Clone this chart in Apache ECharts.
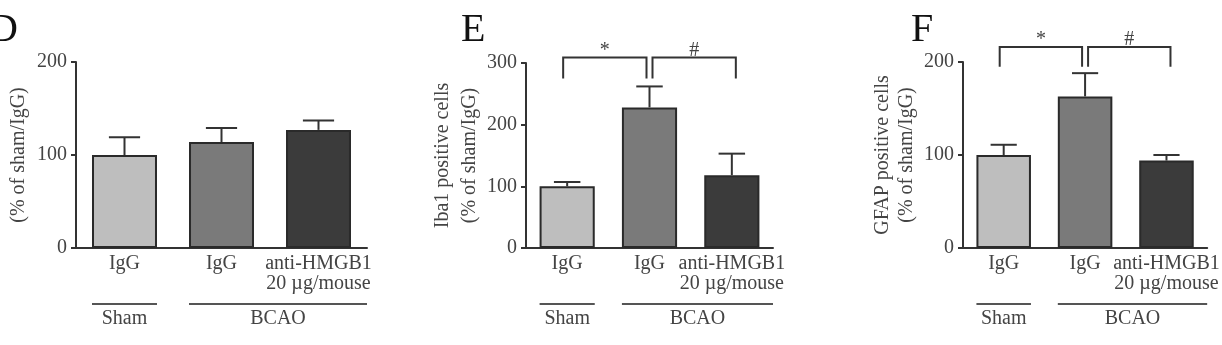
<!DOCTYPE html>
<html>
<head>
<meta charset="utf-8">
<script src="https://cdn.jsdelivr.net/npm/echarts@6/dist/echarts.min.js"></script>
<style>
html,body{margin:0;padding:0;background:#fff;}
#chart{width:1222px;height:345px;}
</style>
</head>
<body>
<div id="chart"></div>
<script>
// ---- data ----
const categories = ['IgG', 'IgG', 'anti-HMGB1\n20 µg/mouse'];
const panelLetters = ['D', 'E', 'F'];
const yAxisNames = ['(% of sham/IgG)', 'Iba1 positive cells\n(% of sham/IgG)', 'GFAP positive cells\n(% of sham/IgG)'];
const yMaxes = [200, 300, 200];
const yInterval = 100;
const meanD = [100, 114, 127];
const semD = [19, 15, 10];
const meanE = [100, 228, 118];
const semE = [7, 34, 35];
const meanF = [100, 163, 94];
const semF = [11, 25, 6];
const groupNames = ['Sham', 'BCAO'];
const groupSpans = [[0, 0], [1, 2]];
const sigMarks = ['*', '#'];
const sigSpans = [[0, 1], [1, 2]];
const bracketE = [309, 275];   // top, bottom (axis units)
const bracketF = [216, 195];

// ---- styles / layout ----
const FONT = 'Liberation Serif';
const TXT = '#444';
const LINE = '#333';
const barColors = ['#bebebe', '#7a7a7a', '#3b3b3b'];
const grids = [
  {left: 76, top: 62, width: 291, height: 186},
  {left: 526, top: 63, width: 247, height: 185},
  {left: 963, top: 62, width: 249, height: 186}
];
const nameGaps = [45, 41, 44];
const nameLineHeights = [25, 27, 24];
const means = [meanD, meanE, meanF];
const sems = [semD, semE, semF];
const brackets = [null, bracketE, bracketF];

const chart = echarts.init(document.getElementById('chart'));

const option = {
  animation: false,
  backgroundColor: '#fff',
  grid: grids.map(g => Object.assign({containLabel: false}, g)),
  xAxis: grids.map((g, i) => ({
    type: 'category', gridIndex: i, data: categories,
    axisLine: {show: true, lineStyle: {color: LINE, width: 2}},
    axisTick: {show: false},
    axisLabel: {interval: 0, fontFamily: FONT, fontSize: 20, lineHeight: 20, color: TXT, margin: 6}
  })),
  yAxis: grids.map((g, i) => ({
    type: 'value', gridIndex: i, min: 0, max: yMaxes[i], interval: yInterval,
    name: yAxisNames[i], nameLocation: 'middle', nameRotate: 90, nameGap: nameGaps[i],
    nameTextStyle: {fontFamily: FONT, fontSize: 20, lineHeight: nameLineHeights[i], color: TXT},
    axisLine: {show: true, lineStyle: {color: LINE, width: 2}},
    axisTick: {show: true, length: 5, lineStyle: {color: LINE, width: 2}},
    axisLabel: {fontFamily: FONT, fontSize: 20, color: TXT, margin: 9},
    splitLine: {show: false}
  })),
  graphic: panelLetters.map((L, i) => ({
    type: 'text',
    left: [-11, 461, 911][i], top: 10,
    style: {text: L, fontFamily: FONT, fontSize: 40, fill: '#111'}
  })),
  series: []
};

means.forEach((m, i) => {
  option.series.push({
    type: 'bar', xAxisIndex: i, yAxisIndex: i, barWidth: '67%',
    data: m.map((v, k) => ({value: v, itemStyle: {color: barColors[k]}})),
    itemStyle: {borderColor: '#2a2a2a', borderWidth: 2},
    z: 2
  });
  // error bars (upper only)
  option.series.push({
    type: 'custom', xAxisIndex: i, yAxisIndex: i, z: 3, clip: false,
    data: m.map((v, k) => [k, v, sems[i][k]]),
    encode: {x: 0, y: 1},
    renderItem: function (params, api) {
      const k = api.value(0), v = api.value(1), e = api.value(2);
      const p0 = api.coord([k, v]);
      const p1 = api.coord([k, v + e]);
      const half = api.size([1, 0])[0] * 0.67 * 0.24;
      return {type: 'group', children: [
        {type: 'line', shape: {x1: p0[0], y1: p0[1], x2: p1[0], y2: p1[1]}, style: {stroke: LINE, lineWidth: 2}},
        {type: 'line', shape: {x1: p1[0] - half, y1: p1[1], x2: p1[0] + half, y2: p1[1]}, style: {stroke: LINE, lineWidth: 2}}
      ]};
    }
  });
  // group labels under axis
  option.series.push({
    type: 'custom', xAxisIndex: i, yAxisIndex: i, z: 3, clip: false, silent: true,
    data: groupSpans.map(s => [s[0], s[1], 0]),
    encode: {x: [0, 1], y: 2},
    renderItem: function (params, api) {
      const a = api.coord([api.value(0), 0]);
      const b = api.coord([api.value(1), 0]);
      const band = api.size([1, 0])[0];
      const bw = band * 0.67;
      const x1 = a[0] - bw / 2;
      const x2 = api.value(1) === categories.length - 1 ? b[0] + band / 2 : b[0] + bw / 2;
      const yl = a[1] + 56;
      return {type: 'group', children: [
        {type: 'line', shape: {x1: x1, y1: yl, x2: x2, y2: yl}, style: {stroke: '#555', lineWidth: 2}},
        {type: 'text', style: {text: groupNames[params.dataIndex], x: (x1 + x2) / 2, y: yl + 15,
          align: 'center', verticalAlign: 'middle', fontFamily: FONT, fontSize: 20, fill: TXT}}
      ]};
    }
  });
  // significance brackets
  if (brackets[i]) {
    const br = brackets[i];
    option.series.push({
      type: 'custom', xAxisIndex: i, yAxisIndex: i, z: 3, clip: false, silent: true,
      data: sigSpans.map(s => [s[0], s[1], br[0], br[1]]),
      encode: {x: [0, 1], y: [2, 3]},
      renderItem: function (params, api) {
        const a = api.coord([api.value(0), api.value(2)]);
        const b = api.coord([api.value(1), api.value(2)]);
        const yb = api.coord([api.value(0), api.value(3)])[1];
        const left = params.dataIndex === 0;
        const x1 = a[0] + (left ? -4 : 3);
        const x2 = b[0] + (left ? -3 : 4);
        return {type: 'group', children: [
          {type: 'polyline', shape: {points: [[x1, yb], [x1, a[1]], [x2, a[1]], [x2, yb]]},
            style: {stroke: LINE, lineWidth: 2, fill: null}},
          {type: 'text', style: {text: sigMarks[params.dataIndex], x: (x1 + x2) / 2, y: a[1] - 7,
            align: 'center', verticalAlign: 'middle', fontFamily: FONT, fontSize: 20, fill: TXT}}
        ]};
      }
    });
  }
});

chart.setOption(option);
</script>
</body>
</html>
